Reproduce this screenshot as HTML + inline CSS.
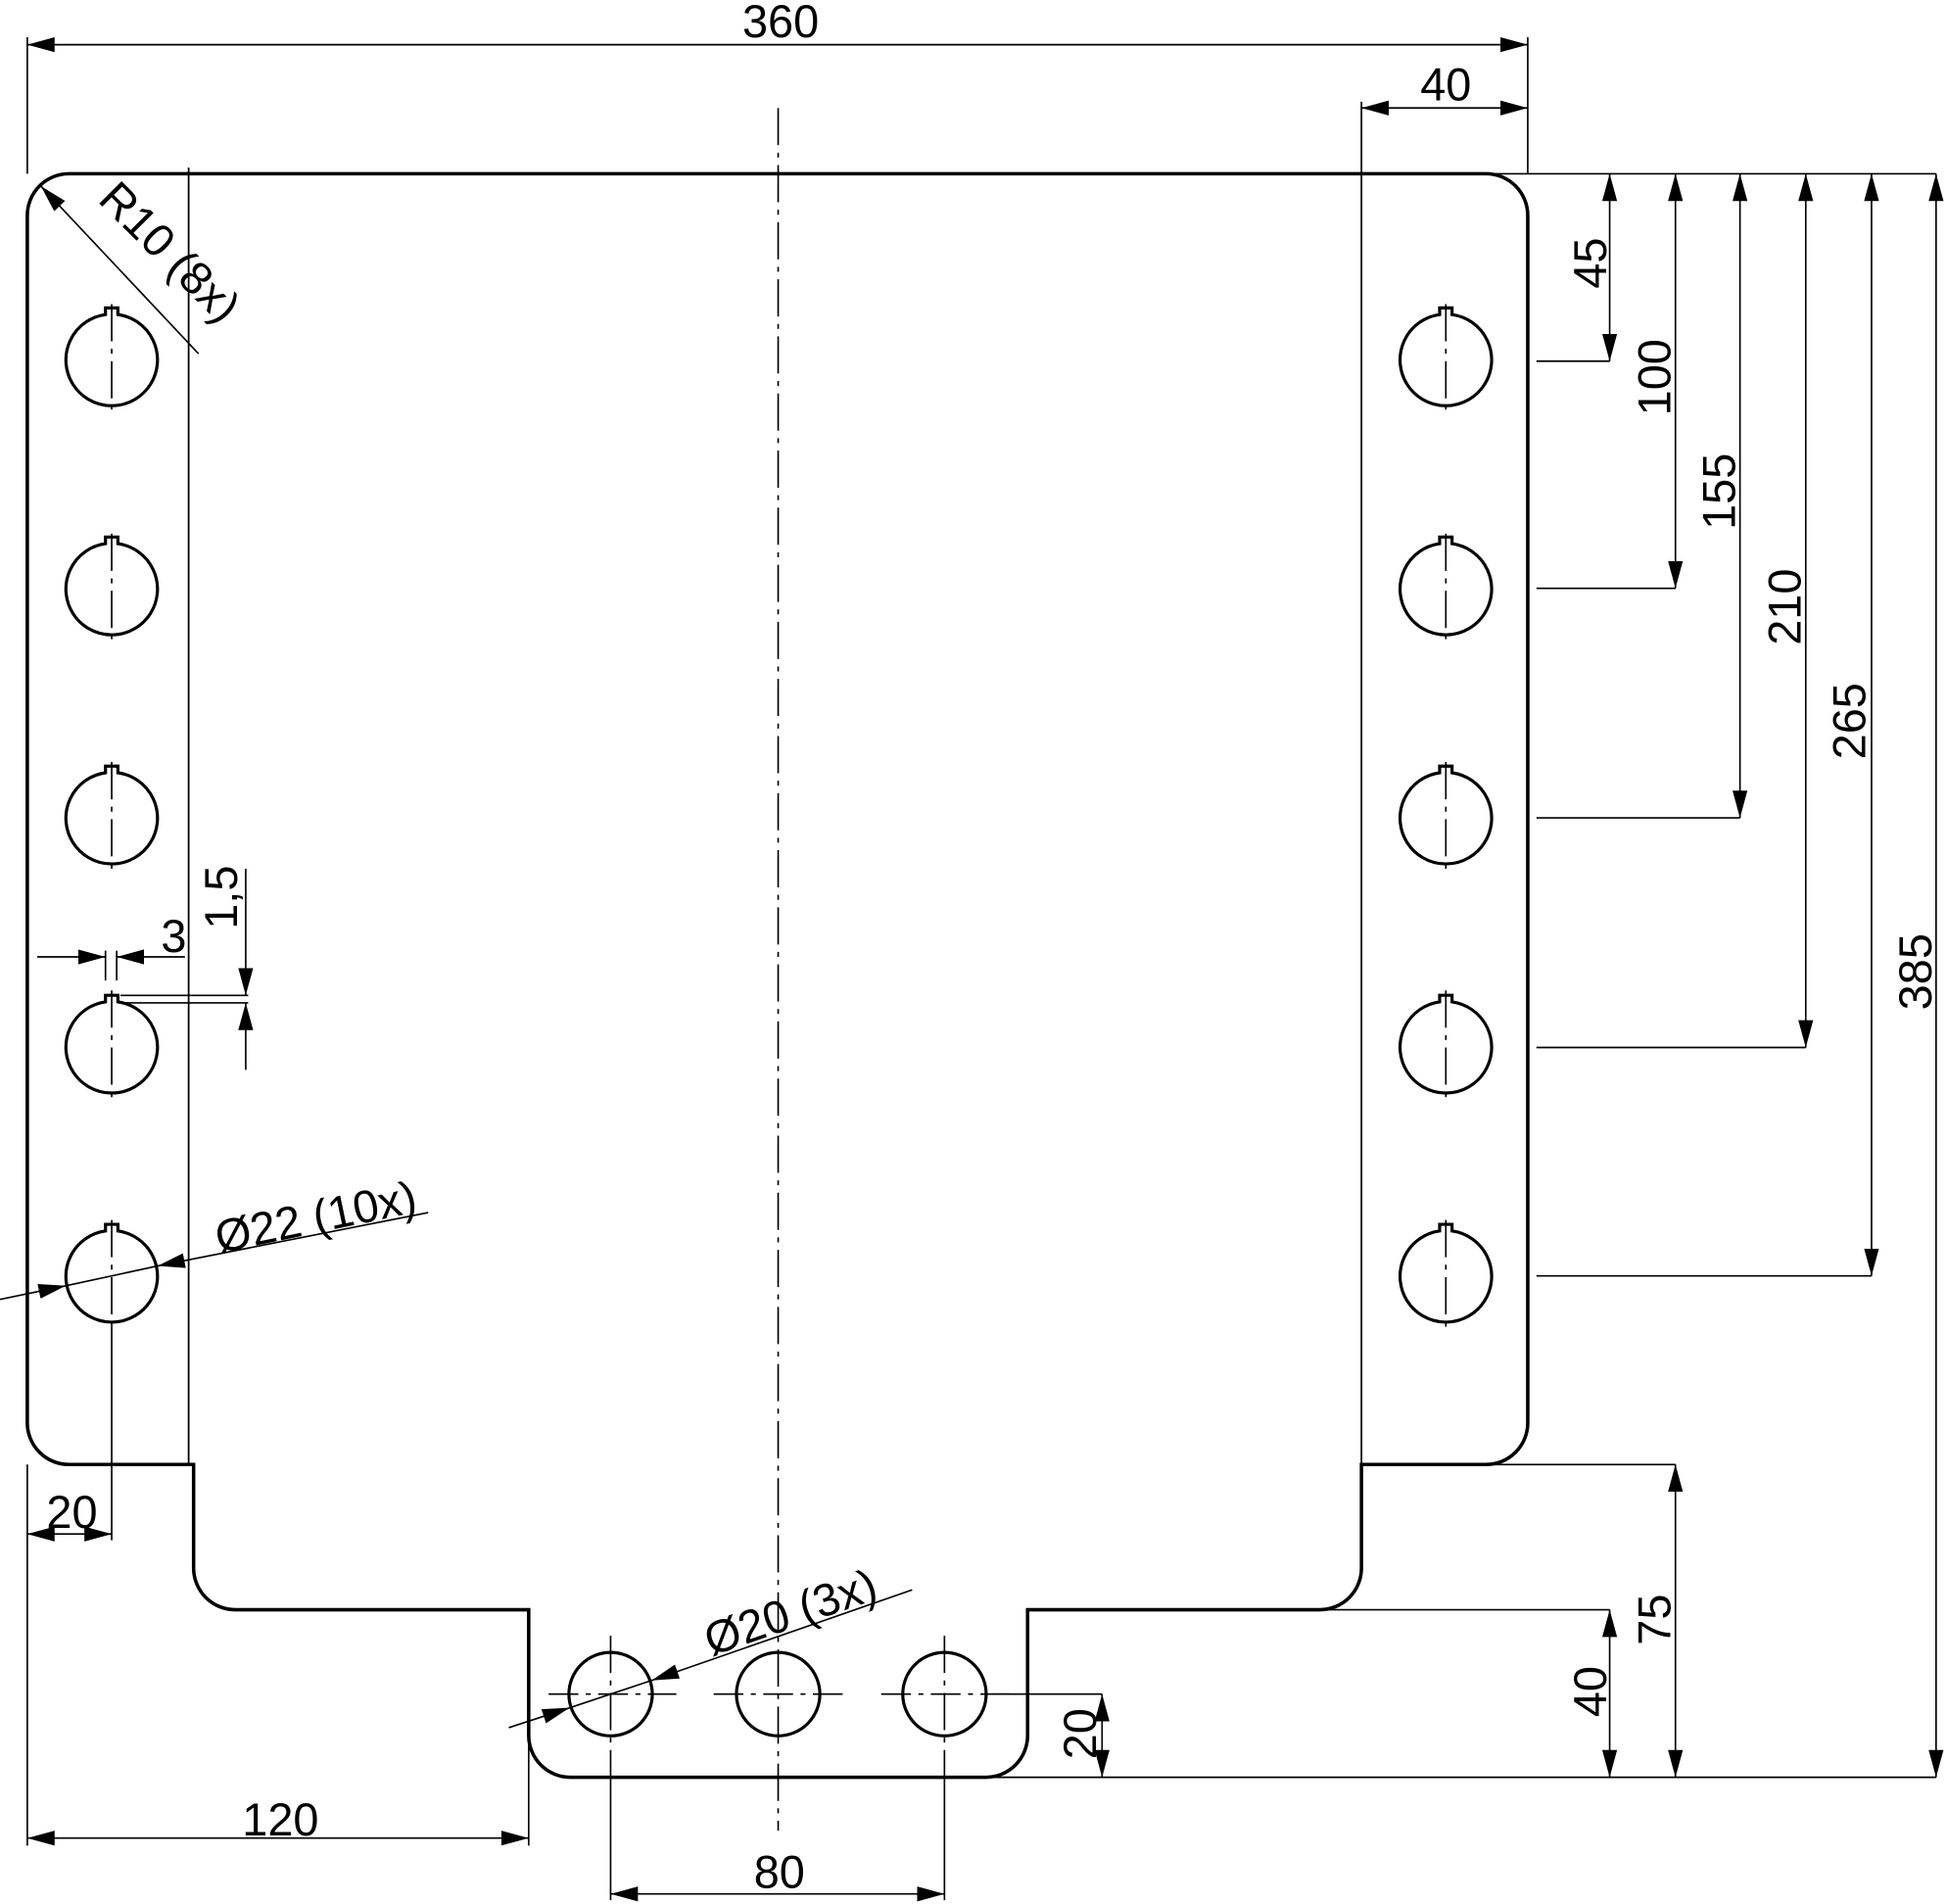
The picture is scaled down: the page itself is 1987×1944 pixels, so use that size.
<!DOCTYPE html>
<html><head><meta charset="utf-8"><style>html,body{margin:0;padding:0;background:#fff}svg{display:block}</style></head>
<body>
<svg width="1987" height="1944" viewBox="0 0 1568 1534.1" preserveAspectRatio="none" xmlns="http://www.w3.org/2000/svg" font-family="Liberation Sans, Arial, sans-serif" font-size="37">
<defs>
<marker id="a" markerUnits="userSpaceOnUse" markerWidth="24" markerHeight="14" refX="22" refY="6" orient="auto-start-reverse" viewBox="0 0 24 12"><path d="M22,6 L0,0 L0,12 Z" fill="#000"/></marker>
</defs>
<g fill="none" stroke="#000">
<path stroke-width="2.8" d="M55.6,140 H1197.4 A33.6,33.6 0 0 1 1231,173.6 V1146.4 A33.6,33.6 0 0 1 1197.4,1180 H1097 V1263.4 A33.6,33.6 0 0 1 1063.4,1297 H828 V1398.4 A33.6,33.6 0 0 1 794.4,1432 H459.6 A33.6,33.6 0 0 1 426,1398.4 V1297 H189.6 A33.6,33.6 0 0 1 156,1263.4 V1180 H55.6 A33.6,33.6 0 0 1 22,1146.4 V173.6 A33.6,33.6 0 0 1 55.6,140 Z"/>
<g stroke-width="1.4">
<line x1="152" y1="135" x2="152" y2="1180"/>
<line x1="1097" y1="82" x2="1097" y2="1180"/>
</g>
<g stroke-width="2.5">
<path id="h" d="M85,253.44 V248.1 H95 V253.44 A36.9,36.9 0 1 1 85,253.44 Z"/>
<use href="#h" y="184.6"/><use href="#h" y="369.2"/><use href="#h" y="553.8"/><use href="#h" y="738.4"/>
<use href="#h" x="1075"/><use href="#h" x="1075" y="184.6"/><use href="#h" x="1075" y="369.2"/><use href="#h" x="1075" y="553.8"/><use href="#h" x="1075" y="738.4"/>
<circle cx="492" cy="1365" r="33.6"/><circle cx="627" cy="1365" r="33.6"/><circle cx="761" cy="1365" r="33.6"/>
</g>
<g stroke-width="1.3" stroke-dasharray="30,6,4,6">
<line x1="627" y1="87" x2="627" y2="1475"/>
<line x1="90" y1="245" x2="90" y2="330"/><line x1="90" y1="430" x2="90" y2="515"/><line x1="90" y1="614" x2="90" y2="700"/><line x1="90" y1="798" x2="90" y2="885"/><line x1="90" y1="983" x2="90" y2="1068"/>
<line x1="1165" y1="245" x2="1165" y2="330"/><line x1="1165" y1="430" x2="1165" y2="515"/><line x1="1165" y1="614" x2="1165" y2="700"/><line x1="1165" y1="798" x2="1165" y2="885"/><line x1="1165" y1="983" x2="1165" y2="1075"/>
<line x1="492" y1="1318" x2="492" y2="1410"/><line x1="761" y1="1318" x2="761" y2="1410"/>
</g>
<g stroke-width="1.3" stroke-dasharray="24,6,4,6">
<line x1="442" y1="1365" x2="545" y2="1365"/><line x1="710" y1="1365" x2="820" y2="1365"/><line x1="575" y1="1365" x2="680" y2="1365"/>
</g>
<g stroke-width="1.3">
<line x1="22" y1="30" x2="22" y2="140"/>
<line x1="1231" y1="30" x2="1231" y2="140"/>
<line x1="1200" y1="140" x2="1560" y2="140"/>
<line x1="1238" y1="291" x2="1297" y2="291"/>
<line x1="1238" y1="474" x2="1350" y2="474"/>
<line x1="1238" y1="659" x2="1402" y2="659"/>
<line x1="1238" y1="844" x2="1455" y2="844"/>
<line x1="1238" y1="1028" x2="1508" y2="1028"/>
<line x1="1200" y1="1180" x2="1350" y2="1180"/>
<line x1="1070" y1="1297" x2="1297" y2="1297"/>
<line x1="800" y1="1432" x2="1560" y2="1432"/>
<line x1="800" y1="1365" x2="888" y2="1365"/>
<line x1="22" y1="1180" x2="22" y2="1487"/>
<line x1="426" y1="1297" x2="426" y2="1487"/>
<line x1="90" y1="1068" x2="90" y2="1241"/>
<line x1="492" y1="1410" x2="492" y2="1531"/>
<line x1="761" y1="1410" x2="761" y2="1531"/>
<line x1="85" y1="766" x2="85" y2="790"/><line x1="94" y1="766" x2="94" y2="790"/>
<line x1="97" y1="802" x2="200" y2="802"/><line x1="97" y1="808" x2="200" y2="808"/>
</g>
<g stroke-width="1.3">
<line x1="22" y1="36" x2="1231" y2="36" marker-start="url(#a)" marker-end="url(#a)"/>
<line x1="1097" y1="87" x2="1231" y2="87" marker-start="url(#a)" marker-end="url(#a)"/>
<line x1="1297" y1="140" x2="1297" y2="291" marker-start="url(#a)" marker-end="url(#a)"/>
<line x1="1350" y1="140" x2="1350" y2="474" marker-start="url(#a)" marker-end="url(#a)"/>
<line x1="1402" y1="140" x2="1402" y2="659" marker-start="url(#a)" marker-end="url(#a)"/>
<line x1="1455" y1="140" x2="1455" y2="844" marker-start="url(#a)" marker-end="url(#a)"/>
<line x1="1508" y1="140" x2="1508" y2="1028" marker-start="url(#a)" marker-end="url(#a)"/>
<line x1="1560" y1="140" x2="1560" y2="1432" marker-start="url(#a)" marker-end="url(#a)"/>
<line x1="1350" y1="1180" x2="1350" y2="1432" marker-start="url(#a)" marker-end="url(#a)"/>
<line x1="1297" y1="1297" x2="1297" y2="1432" marker-start="url(#a)" marker-end="url(#a)"/>
<line x1="888" y1="1365" x2="888" y2="1432" marker-start="url(#a)" marker-end="url(#a)"/>
<line x1="22" y1="1481" x2="426" y2="1481" marker-start="url(#a)" marker-end="url(#a)"/>
<line x1="492" y1="1526" x2="761" y2="1526" marker-start="url(#a)" marker-end="url(#a)"/>
<line x1="22" y1="1236" x2="90" y2="1236" marker-start="url(#a)" marker-end="url(#a)"/>
<line x1="30" y1="771" x2="85" y2="771" marker-end="url(#a)"/>
<line x1="149" y1="771" x2="94" y2="771" marker-end="url(#a)"/>
<line x1="198" y1="700" x2="198" y2="802" marker-end="url(#a)"/>
<line x1="198" y1="862" x2="198" y2="808" marker-end="url(#a)"/>
<line x1="160" y1="285" x2="33" y2="150" marker-end="url(#a)"/>
<line x1="0" y1="1047" x2="53" y2="1036" marker-end="url(#a)"/>
<line x1="53" y1="1036" x2="127" y2="1020"/>
<line x1="345" y1="977" x2="127" y2="1020" marker-end="url(#a)"/>
<line x1="410" y1="1392" x2="459" y2="1376" marker-end="url(#a)"/>
<line x1="459" y1="1376" x2="525" y2="1354"/>
<line x1="735" y1="1281" x2="525" y2="1354" marker-end="url(#a)"/>
</g>
</g>
<g fill="#000" text-anchor="middle">
<text x="629" y="30">360</text>
<text x="1165" y="81">40</text>
<text transform="translate(1294,212) rotate(-90)">45</text>
<text transform="translate(1346,304) rotate(-90)">100</text>
<text transform="translate(1398,396) rotate(-90)">155</text>
<text transform="translate(1451,489) rotate(-90)">210</text>
<text transform="translate(1503,581) rotate(-90)">265</text>
<text transform="translate(1556,783) rotate(-90)">385</text>
<text transform="translate(1346,1305) rotate(-90)">75</text>
<text transform="translate(1294,1363) rotate(-90)">40</text>
<text transform="translate(883,1397) rotate(-90)">20</text>
<text x="226" y="1479">120</text>
<text x="628" y="1521">80</text>
<text x="58" y="1231">20</text>
<text x="140" y="767">3</text>
<text transform="translate(191,723) rotate(-90)">1,5</text>
<text transform="translate(128,212) rotate(45)">R10 (8x)</text>
<text transform="translate(257,993) rotate(-11.8)">Ø22 (10x)</text>
<text transform="translate(641,1311) rotate(-19)">Ø20 (3x)</text>
</g>
</svg>
</body></html>
